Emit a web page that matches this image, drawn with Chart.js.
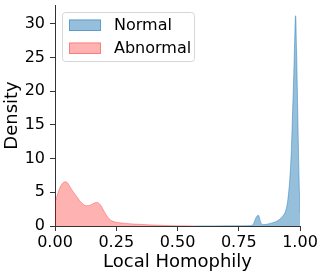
<!DOCTYPE html>
<html lang="en">
<head>
  <meta charset="UTF-8" />
  <title>Local Homophily density</title>
  <script src="https://cdn.jsdelivr.net/npm/chart.js"></script>
  <style>
    body { margin: 0; background: #fff; }
  </style>
</head>
<body>
  <canvas id="chart" width="324" height="277"></canvas>

  <script>
    // density curves
    const abnX = [0, 0.01, 0.02, 0.03, 0.04, 0.05, 0.06, 0.07, 0.08, 0.09, 0.10, 0.11, 0.12, 0.13, 0.14,
                  0.15, 0.16, 0.17, 0.18, 0.19, 0.20, 0.21, 0.22, 0.23, 0.25, 0.28, 0.32, 0.36, 0.40, 0.45, 0.50, 0.57];
    const abnY = [3.4, 4.7, 5.7, 6.3, 6.55, 6.45, 5.9, 5.3, 4.8, 4.3, 3.8, 3.4, 3.1, 3.0, 3.05,
                  3.2, 3.4, 3.5, 3.35, 2.9, 2.2, 1.6, 1.1, 0.8, 0.55, 0.42, 0.3, 0.22, 0.15, 0.08, 0.04, 0.01];

    const normX = [0.57, 0.65, 0.75, 0.80, 0.81, 0.82, 0.83, 0.84, 0.85, 0.87, 0.89, 0.91, 0.92, 0.93, 0.94,
                   0.95, 0.959, 0.965, 0.970, 0.975, 0.978, 0.982, 0.986, 0.9906, 0.996, 1.0];
    const normY = [0, 0.01, 0.02, 0.05, 0.3, 1.2, 1.6, 0.5, 0.2, 0.3, 0.5, 0.8, 1.1, 1.5, 2.1,
                   3.8, 7.3, 11.5, 17.2, 23, 27.2, 31.2, 26, 17.2, 7.3, 2];

    const xTicks = [0, 0.25, 0.5, 0.75, 1.0];
    const yTicks = [0, 5, 10, 15, 20, 25, 30];

    const labels = ['Normal', 'Abnormal'];
    const blue = 'rgba(31,119,180,0.47)';
    const red = 'rgba(255,0,0,0.3)';

    const pts = (xs, ys) => xs.map((x, i) => ({ x: x, y: ys[i] }));
    const font = 'DejaVu Sans';

    // matplotlib-style legend box drawn inside the plot
    const boxLegend = {
      id: 'boxLegend',
      afterDraw(chart) {
        const c = chart.ctx;
        c.save();
        c.beginPath();
        c.roundRect(62.5, 12.5, 132, 49, 3);
        c.fillStyle = 'rgba(255,255,255,0.8)';
        c.fill();
        c.strokeStyle = '#d6d6d6';
        c.lineWidth = 1;
        c.stroke();
        c.font = '16px "' + font + '"';
        c.textBaseline = 'middle';
        chart.data.datasets.forEach((ds, i) => {
          const y = 19.5 + i * 23;
          c.fillStyle = ds.backgroundColor;
          c.fillRect(69, y, 32, 11.5);
          c.strokeStyle = ds.borderColor;
          c.strokeRect(69.5, y + 0.5, 31, 10.5);
          c.fillStyle = '#000';
          c.fillText(ds.label, 114, y + 6);
        });
        c.restore();
      }
    };

    new Chart(document.getElementById('chart'), {
      type: 'line',
      data: {
        datasets: [
          { label: labels[0], data: pts(normX, normY), borderColor: blue, backgroundColor: blue,
            fill: 'origin', borderWidth: 1, pointRadius: 0, cubicInterpolationMode: 'monotone' },
          { label: labels[1], data: pts(abnX, abnY), borderColor: red, backgroundColor: red,
            fill: 'origin', borderWidth: 1, pointRadius: 0, cubicInterpolationMode: 'monotone' }
        ]
      },
      plugins: [boxLegend],
      options: {
        responsive: false,
        animation: false,
        devicePixelRatio: 1,
        layout: { padding: { left: 0, right: 24, top: 5, bottom: 0 } },
        plugins: { legend: { display: false }, tooltip: { enabled: false } },
        scales: {
          x: {
            type: 'linear', min: 0, max: 1,
            afterFit: s => { s.height = 51; },
            afterBuildTicks: s => { s.ticks = xTicks.map(v => ({ value: v })); },
            grid: { drawOnChartArea: false, tickLength: 5, color: '#333' },
            border: { color: '#333' },
            ticks: { color: '#000', padding: 2, maxRotation: 0, font: { family: font, size: 16 },
                     callback: v => v.toFixed(2) },
            title: { display: true, text: 'Local Homophily', color: '#000',
                     font: { family: font, size: 18 }, padding: { top: 0, bottom: 4 } }
          },
          y: {
            min: 0, max: 32.8,
            afterFit: s => { s.width = 55; s.paddingTop = 0; s.paddingBottom = 0; },
            afterBuildTicks: s => { s.ticks = yTicks.map(v => ({ value: v })); },
            grid: { drawOnChartArea: false, tickLength: 5, color: '#333' },
            border: { color: '#333' },
            ticks: { color: '#000', padding: 5, font: { family: font, size: 16 } },
            title: { display: true, text: 'Density', color: '#000',
                     font: { family: font, size: 18 }, padding: { top: 2, bottom: 0 } }
          }
        }
      }
    });
  </script>
</body>
</html>
